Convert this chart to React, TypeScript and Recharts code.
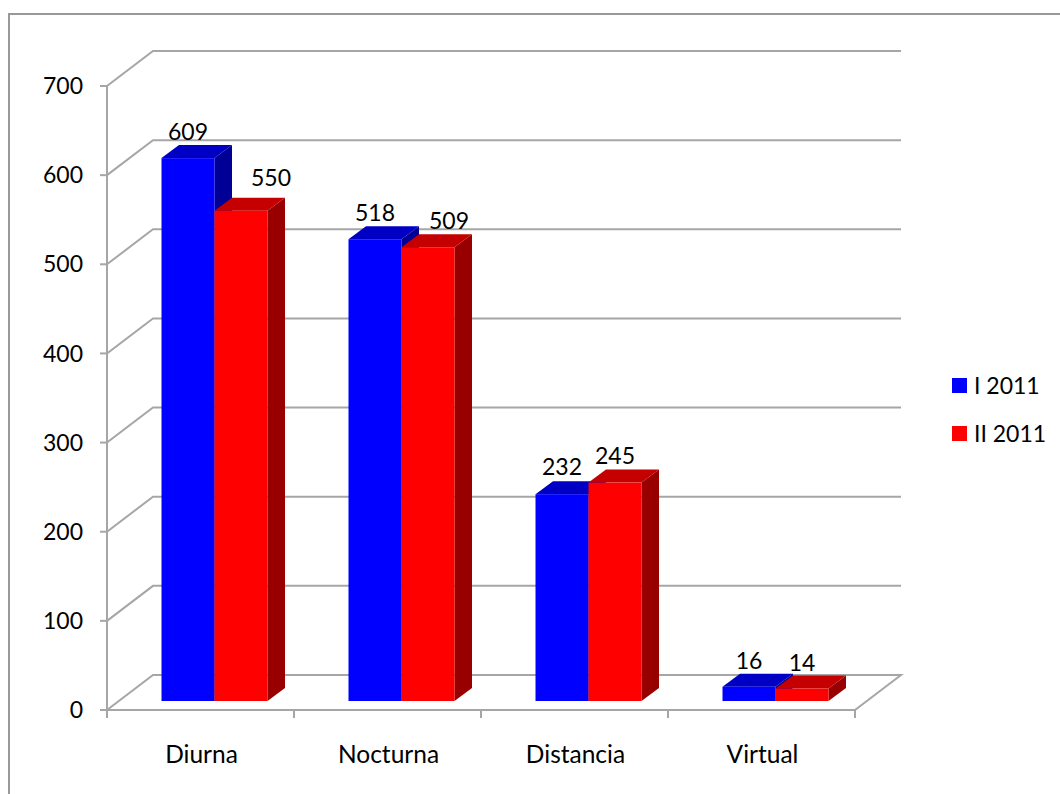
import { BarChart, Bar, XAxis, YAxis, CartesianGrid, LabelList, Legend } from "recharts";

const categories = ["Diurna", "Nocturna", "Distancia", "Virtual"];
const firstTerm = [609, 518, 232, 16];
const secondTerm = [550, 509, 245, 14];
const yTicks = [0, 100, 200, 300, 400, 500, 600, 700];

const chartData = categories.map((name, i) => ({
  name,
  first: firstTerm[i],
  second: secondTerm[i],
}));

const FONT = "Lato, sans-serif";
const FONT_SIZE = 23;
const LINE = "#a6a6a6";
const BAND = 187;

// the fake 3D: how far the back wall sits from the axes, and how deep a bar is
const WALL_DX = 46;
const WALL_DY = -35;
const DEPTH_DX = 17.5;
const DEPTH_DY = -13;
// bars stand a bit inside the floor
const BAR_DX = 13.5;
const BAR_DY = -9;

function makeBar3D(topFill: string, sideFill: string) {
  return function Bar3D(props: any) {
    const x = props.x + BAR_DX;
    const y = props.y + BAR_DY;
    const { width, height, fill } = props;
    const right = x + width;
    const bottom = y + height;
    return (
      <g>
        <path
          d={`M${right},${y} L${right + DEPTH_DX},${y + DEPTH_DY} L${right + DEPTH_DX},${bottom + DEPTH_DY} L${right},${bottom} Z`}
          fill={sideFill}
        />
        <path
          d={`M${x},${y} L${x + DEPTH_DX},${y + DEPTH_DY} L${right + DEPTH_DX},${y + DEPTH_DY} L${right},${y} Z`}
          fill={topFill}
        />
        <rect x={x} y={y} width={width} height={height} fill={fill} />
      </g>
    );
  };
}

const BlueBar = makeBar3D("#0000c4", "#000096");
const RedBar = makeBar3D("#c40000", "#980000");

// the labels were nudged by hand in the original, per bar
function makeLabel(nudges: number[][]) {
  return function BarLabel(props: any) {
    const { x, y, width, value, index } = props;
    const [nx, ny] = nudges[index];
    return (
      <text
        x={x + width / 2 + BAR_DX + nx}
        y={y + BAR_DY - 18 + ny}
        textAnchor="middle"
        fontFamily={FONT}
        fontSize={FONT_SIZE}
        fill="#000"
      >
        {value}
      </text>
    );
  };
}

function WallLine(props: any) {
  const { x1, x2, y1 } = props;
  const isFloor = y1 > 700;
  const d = isFloor
    ? `M${x1},${y1} L${x1 + WALL_DX},${y1 + WALL_DY} L${x2 + WALL_DX},${y1 + WALL_DY} L${x2},${y1}`
    : `M${x1},${y1} L${x1 + WALL_DX},${y1 + WALL_DY} L${x2 + WALL_DX},${y1 + WALL_DY}`;
  return <path key={`wall-${y1}`} d={d} fill="none" stroke={LINE} strokeWidth={2} />;
}

// tick marks sit between the categories, the names in the middle of each
function CategoryTick(props: any) {
  const { x, y, payload, index } = props;
  const axisY = y - 36;
  const left = x - BAND / 2;
  return (
    <g>
      <line x1={left} x2={left} y1={axisY} y2={axisY + 8} stroke={LINE} strokeWidth={2} />
      {index === categories.length - 1 && (
        <line x1={left + BAND} x2={left + BAND} y1={axisY} y2={axisY + 8} stroke={LINE} strokeWidth={2} />
      )}
      <text x={x + 1} y={y} dy="0.71em" textAnchor="middle" fontFamily={FONT} fontSize={24.5} fill="#000">
        {payload.value}
      </text>
    </g>
  );
}

function LegendList({ payload }: any) {
  return (
    <div style={{ fontFamily: FONT, fontSize: FONT_SIZE, color: "#000" }}>
      {(payload ?? []).map((item: any) => (
        <div key={item.value} style={{ display: "flex", alignItems: "center", height: 48 }}>
          <span style={{ width: 15, height: 15, background: item.color, marginRight: 7 }} />
          {item.value}
        </div>
      ))}
    </div>
  );
}

export default function App() {
  return (
    <div style={{ position: "absolute", left: 0, top: 0, width: 1060, height: 794, background: "#fff" }}>
      <div
        style={{
          position: "absolute",
          left: 8,
          top: 13,
          width: 1052,
          height: 781,
          boxSizing: "border-box",
          borderTop: "2px solid #999",
          borderLeft: "2px solid #999",
        }}
      />
      <BarChart
        width={1060}
        height={794}
        data={chartData}
        margin={{ top: 86, right: 97, bottom: 0, left: 0 }}
        barSize={53}
        barGap={0}
        style={{ position: "absolute", left: 0, top: 0 }}
      >
        <CartesianGrid vertical={false} horizontal={WallLine} />
        <XAxis
          dataKey="name"
          height={84}
          tickSize={0}
          tickMargin={36}
          interval={0}
          axisLine={{ stroke: LINE, strokeWidth: 2 }}
          tickLine={false}
          tick={CategoryTick}
        />
        <YAxis
          width={107}
          domain={[0, 700]}
          ticks={yTicks}
          interval={0}
          tickSize={7}
          tickMargin={17}
          axisLine={{ stroke: LINE, strokeWidth: 2 }}
          tickLine={{ stroke: LINE, strokeWidth: 2 }}
          tick={{ fontFamily: FONT, fontSize: FONT_SIZE, fill: "#000" }}
        />
        <Legend
          layout="vertical"
          align="right"
          verticalAlign="top"
          content={LegendList}
          wrapperStyle={{ position: "absolute", left: 952, top: 361, width: 108 }}
        />
        <Bar dataKey="first" name="I 2011" fill="#0000ff" shape={BlueBar} isAnimationActive={false}>
          <LabelList dataKey="first" content={makeLabel([[0, 0], [0, 0], [0, -1], [0, 0]])} />
        </Bar>
        <Bar dataKey="second" name="II 2011" fill="#ff0000" shape={RedBar} isAnimationActive={false}>
          <LabelList dataKey="second" content={makeLabel([[30, -7], [21, 0], [0, -1], [0, 0]])} />
        </Bar>
      </BarChart>
    </div>
  );
}
